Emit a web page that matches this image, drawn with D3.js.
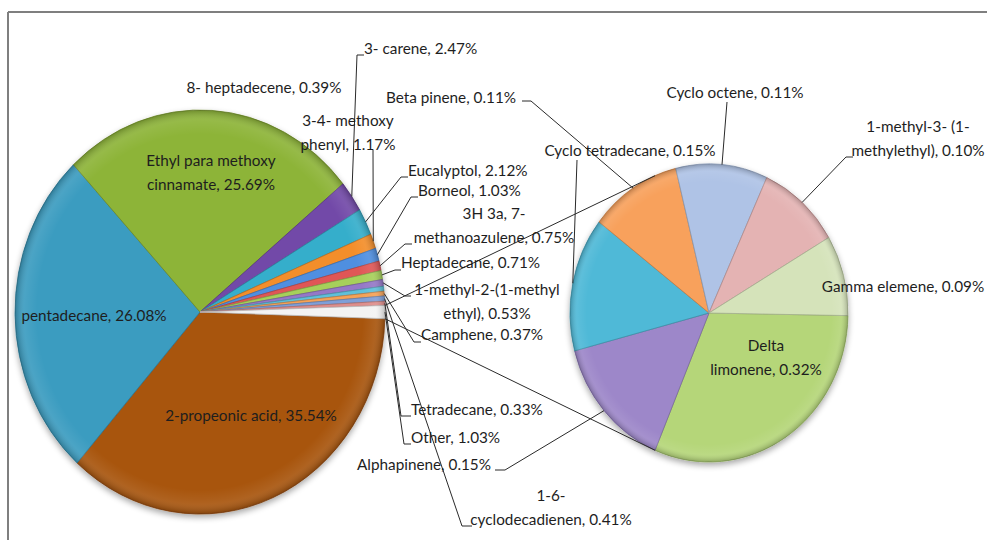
<!DOCTYPE html>
<html><head><meta charset="utf-8">
<script src="https://cdn.jsdelivr.net/npm/d3@7"></script>
<style>
html,body{margin:0;padding:0;background:#fff;}
svg{display:block;}
text{font-family:Lato,"Open Sans",sans-serif;font-size:15.3px;fill:#1e1e1e;}
</style></head>
<body>
<svg id="c" width="987" height="540"></svg>
<script>
// ---- data ----
const mainNames = ["2-propeonic acid","pentadecane","Ethyl para methoxy cinnamate","3- carene","Eucalyptol",
  "3-4- methoxy phenyl","Borneol","3H 3a, 7- methanoazulene","Heptadecane","1-methyl-2-(1-methyl ethyl)",
  "8- heptadecene","Camphene","1-6- cyclodecadienen","Tetradecane","Other"];
const mainValues = [35.54,26.08,25.69,2.47,2.12,1.17,1.03,0.75,0.71,0.53,0.39,0.37,0.41,0.33,1.03];
const mainColors = ["#a8540f","#3a9cc0","#8db437","#7249a8","#35aecb","#f38e2b","#4f8fe0","#e05757",
  "#a6d05a","#9578c7","#5ec0da","#f5a257","#7f9fd8","#de8e8c","#f3f3f3"];
const subNames = ["Delta limonene","Alphapinene","Cyclo tetradecane","Beta pinene","Cyclo octene",
  "1-methyl-3- (1-methylethyl)","Gamma elemene"];
const subValues = [0.32,0.15,0.15,0.11,0.11,0.10,0.09];
const subColors = ["#b5d679","#9d87c9","#4fb9d7","#f8a15b","#afc3e6","#e4b3b3","#d5e3ba"];

// ---- layout ----
const M = {cx:200, cy:312, rx:185, ry:202};
const S = {cx:709, cy:313, rx:139, ry:149};
const deg = Math.PI/180;
const mainStart = 91.9*deg, subStart = 91*deg;

// label layout: lines, x, y (first line center), anchor, leader points from label side
const mainLabels = {
  "2-propeonic acid": {lines:["2-propeonic acid, 35.54%"], x:251, y:415, a:"middle"},
  "pentadecane": {lines:["pentadecane, 26.08%"], x:94, y:315, a:"middle"},
  "Ethyl para methoxy cinnamate": {lines:["Ethyl para methoxy","cinnamate, 25.69%"], x:211, y:160, a:"middle"},
  "3- carene": {lines:["3- carene, 2.47%"], x:364, y:48, a:"start", lead:[[364,55],[357,55]]},
  "8- heptadecene": {lines:["8- heptadecene, 0.39%"], x:264, y:87, a:"middle"},
  "3-4- methoxy phenyl": {lines:["3-4- methoxy","phenyl, 1.17%"], x:348, y:120, a:"middle", lead:[[373,150]]},
  "Eucalyptol": {lines:["Eucalyptol, 2.12%"], x:408, y:170, a:"start", lead:[[408,177],[401,177]]},
  "Borneol": {lines:["Borneol, 1.03%"], x:418, y:190, a:"start", lead:[[418,197],[411,197]]},
  "3H 3a, 7- methanoazulene": {lines:["3H 3a, 7-","methanoazulene, 0.75%"], x:494, y:213, a:"middle", lead:[[412,244],[405,244]]},
  "Heptadecane": {lines:["Heptadecane, 0.71%"], x:401, y:262, a:"start", lead:[[401,270],[395,270]]},
  "1-methyl-2-(1-methyl ethyl)": {lines:["1-methyl-2-(1-methyl","ethyl), 0.53%"], x:487, y:289, a:"middle", lead:[[411,296],[405,296]]},
  "Camphene": {lines:["Camphene, 0.37%"], x:421, y:334, a:"start", lead:[[421,342],[414,342]]},
  "Tetradecane": {lines:["Tetradecane, 0.33%"], x:411, y:409, a:"start", lead:[[411,416],[401,416]]},
  "Other": {lines:["Other, 1.03%"], x:411, y:437, a:"start", lead:[[411,444],[404,444]]},
  "1-6- cyclodecadienen": {lines:["1-6-","cyclodecadienen, 0.41%"], x:551, y:495, a:"middle", lead:[[472,526],[462,526]]}
};
const subLabels = {
  "Delta limonene": {lines:["Delta","limonene, 0.32%"], x:766, y:345, a:"middle"},
  "Alphapinene": {lines:["Alphapinene, 0.15%"], x:491, y:464, a:"end", lead:[[495,470],[505,470]]},
  "Cyclo tetradecane": {lines:["Cyclo tetradecane, 0.15%"], x:630, y:150, a:"middle", lead:[[577,160]]},
  "Beta pinene": {lines:["Beta pinene, 0.11%"], x:451, y:97, a:"middle", lead:[[522,101],[531,101]]},
  "Cyclo octene": {lines:["Cyclo octene, 0.11%"], x:735, y:92, a:"middle", lead:[[727,102]]},
  "1-methyl-3- (1-methylethyl)": {lines:["1-methyl-3- (1-","methylethyl), 0.10%"], x:918, y:126, a:"middle", lead:[[853,157],[846,157]]},
  "Gamma elemene": {lines:["Gamma elemene, 0.09%"], x:903, y:286, a:"middle"}
};

const svg = d3.select("#c");
const defs = svg.append("defs");
const f = defs.append("filter").attr("id","sh").attr("x","-10%").attr("y","-10%").attr("width","120%").attr("height","125%");
f.append("feGaussianBlur").attr("in","SourceAlpha").attr("stdDeviation",3);
f.append("feOffset").attr("dy",3).attr("result","b");
f.append("feComponentTransfer").append("feFuncA").attr("type","linear").attr("slope",0.35);
const fm = f.append("feMerge"); fm.append("feMergeNode"); fm.append("feMergeNode").attr("in","SourceGraphic");
const rg = defs.append("radialGradient").attr("id","rim").attr("cx","50%").attr("cy","50%").attr("r","50%");
rg.append("stop").attr("offset","0%").attr("stop-color","#fff").attr("stop-opacity",0.0);
rg.append("stop").attr("offset","88%").attr("stop-color","#fff").attr("stop-opacity",0.0);
rg.append("stop").attr("offset","95%").attr("stop-color","#fff").attr("stop-opacity",0.08);
rg.append("stop").attr("offset","100%").attr("stop-color","#000").attr("stop-opacity",0.22);

// frame
svg.append("line").attr("x1",8).attr("y1",12).attr("x2",987).attr("y2",12).attr("stroke","#7f7f7f").attr("stroke-width",2);
svg.append("line").attr("x1",8).attr("y1",12).attr("x2",8).attr("y2",540).attr("stroke","#7f7f7f").attr("stroke-width",2);

function drawPie(P, names, values, colors, start) {
  const pie = d3.pie().sort(null).value(d=>d.v).startAngle(start).endAngle(start+2*Math.PI);
  const arcs = pie(names.map((n,i)=>({n, v:values[i], c:colors[i]})));
  const arc = d3.arc().innerRadius(0).outerRadius(P.rx);
  const g = svg.append("g").attr("transform",`translate(${P.cx},${P.cy}) scale(1,${P.ry/P.rx})`);
  const gg = g.append("g").attr("filter","url(#sh)");
  gg.selectAll("path").data(arcs).join("path").attr("d",arc)
    .attr("fill",d=>d.data.c)
    .attr("stroke",d=>d3.color(d.data.c).darker(0.7))
    .attr("stroke-width",0.8).attr("vector-effect","non-scaling-stroke");
  g.append("circle").attr("r",P.rx).attr("fill","url(#rim)").attr("pointer-events","none");
  return arcs;
}
function pt(P, ang, rf) { // d3 angle -> screen point
  return [P.cx + P.rx*rf*Math.sin(ang), P.cy - P.ry*rf*Math.cos(ang)];
}

const mainArcs = drawPie(M, mainNames, mainValues, mainColors, mainStart);
const subArcs = drawPie(S, subNames, subValues, subColors, subStart);

// series lines between Other and secondary pie
const other = mainArcs[mainArcs.length-1];
const firstSub = subArcs[0];
const mirror = 2*(270*deg) - firstSub.endAngle; // mirror about the left horizontal
const lineG = svg.append("g").attr("stroke","#2a2a2a").attr("stroke-width",1).attr("fill","none");
lineG.append("line").datum([pt(M,other.startAngle,1), pt(S,mirror,1)])
  .attr("x1",d=>d[0][0]).attr("y1",d=>d[0][1]).attr("x2",d=>d[1][0]).attr("y2",d=>d[1][1]);
lineG.append("line").datum([pt(M,other.endAngle,1), pt(S,firstSub.endAngle,1)])
  .attr("x1",d=>d[0][0]).attr("y1",d=>d[0][1]).attr("x2",d=>d[1][0]).attr("y2",d=>d[1][1]);

function labels(P, arcs, L) {
  arcs.forEach(d=>{
    const lab = L[d.data.n]; if(!lab) return;
    if (lab.lead) {
      const mid = (d.startAngle+d.endAngle)/2;
      const pts = lab.lead.concat([pt(P, mid, 1.0)]);
      lineG.append("path").attr("d", d3.line()(pts));
    }
    const t = svg.append("text").attr("text-anchor",lab.a).attr("dominant-baseline","central");
    lab.lines.forEach((s,i)=>t.append("tspan").attr("x",lab.x).attr("y",lab.y+i*23.5).text(s));
  });
}
labels(M, mainArcs, mainLabels);
labels(S, subArcs, subLabels);
</script>
</body></html>
